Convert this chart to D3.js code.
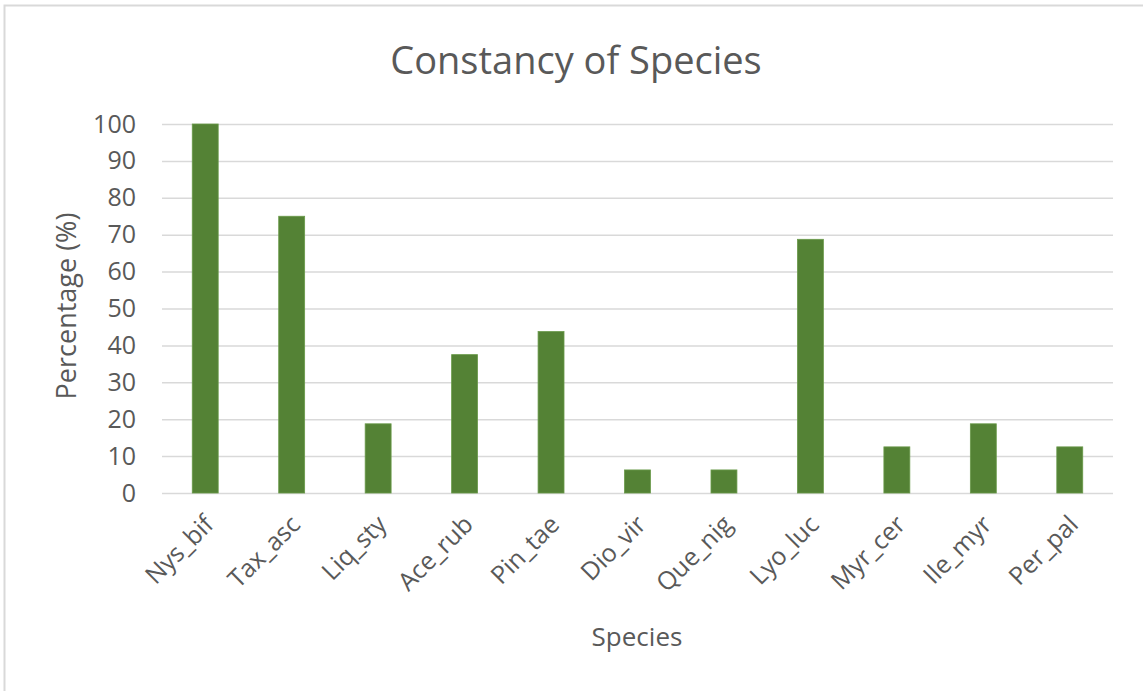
<!DOCTYPE html>
<html>
<head>
<meta charset="utf-8">
<script src="https://cdn.jsdelivr.net/npm/d3@7"></script>
<style>
html,body{margin:0;padding:0;background:#fff;}
svg{display:block;font-family:"Open Sans",sans-serif;}
</style>
</head>
<body>
<svg id="chart" width="1143" height="691"></svg>
<script>
const categories = ["Nys_bif","Tax_asc","Liq_sty","Ace_rub","Pin_tae","Dio_vir","Que_nig","Lyo_luc","Myr_cer","Ile_myr","Per_pal"];
const values = [100, 75, 18.75, 37.5, 43.75, 6.25, 6.25, 68.75, 12.5, 18.75, 12.5];
const yTicks = [0,10,20,30,40,50,60,70,80,90,100];
const title = "Constancy of Species";
const xTitle = "Species";
const yTitle = "Percentage (%)";

const svg = d3.select("#chart");
const W = 1143, H = 691;

svg.append("rect").attr("x",4.5).attr("y",5.5).attr("width",W+10).attr("height",H+10)
  .attr("fill","#fff").attr("stroke","#d9d9d9").attr("stroke-width",2);

const x = d3.scaleBand().domain(categories).range([162,1113]).paddingInner(0.7).paddingOuter(0.35);
const y = d3.scaleLinear().domain([0,100]).range([493,124]);

// gridlines
svg.append("g").selectAll("line").data(yTicks).join("line")
  .attr("x1",162).attr("x2",1113)
  .attr("y1",d=>y(d)+0.5).attr("y2",d=>y(d)+0.5)
  .attr("stroke","#d9d9d9").attr("stroke-width",1.5);

// y axis labels
const yAxis = d3.axisLeft(y).tickValues(yTicks).tickSize(0).tickPadding(26);
const gy = svg.append("g").attr("transform","translate(162,0)").call(yAxis);
gy.select(".domain").remove();
gy.selectAll("text").attr("font-size",25).attr("fill","#595959").attr("font-family","Open Sans, sans-serif");

// bars
svg.append("g").selectAll("rect").data(values).join("rect")
  .attr("x",(d,i)=>x(categories[i]))
  .attr("width",x.bandwidth())
  .attr("y",d=>y(d))
  .attr("height",d=>y(0)-y(d))
  .attr("fill","#548235")
  .attr("stroke","#6a9a4a").attr("stroke-width",0.8);

// x axis labels
const xAxis = d3.axisBottom(x).tickSize(0).tickPadding(0);
const gx = svg.append("g").attr("transform","translate(0,493)").call(xAxis);
gx.select(".domain").remove();
gx.selectAll("text")
  .attr("font-size",25).attr("fill","#595959").attr("font-family","Open Sans, sans-serif")
  .attr("text-anchor","end")
  .attr("dy",0)
  .attr("transform","translate(10,33) rotate(-45)");

// title
svg.append("text").attr("x",576).attr("y",74).attr("text-anchor","middle")
  .attr("font-size",38).attr("fill","#595959").text(title);

// axis titles
svg.append("text").attr("x",637).attr("y",646).attr("text-anchor","middle")
  .attr("font-size",26).attr("fill","#595959").text(xTitle);
svg.append("text").attr("transform","translate(76,306) rotate(-90)").attr("text-anchor","middle")
  .attr("font-size",27).attr("fill","#595959").text(yTitle);
</script>
</body>
</html>
